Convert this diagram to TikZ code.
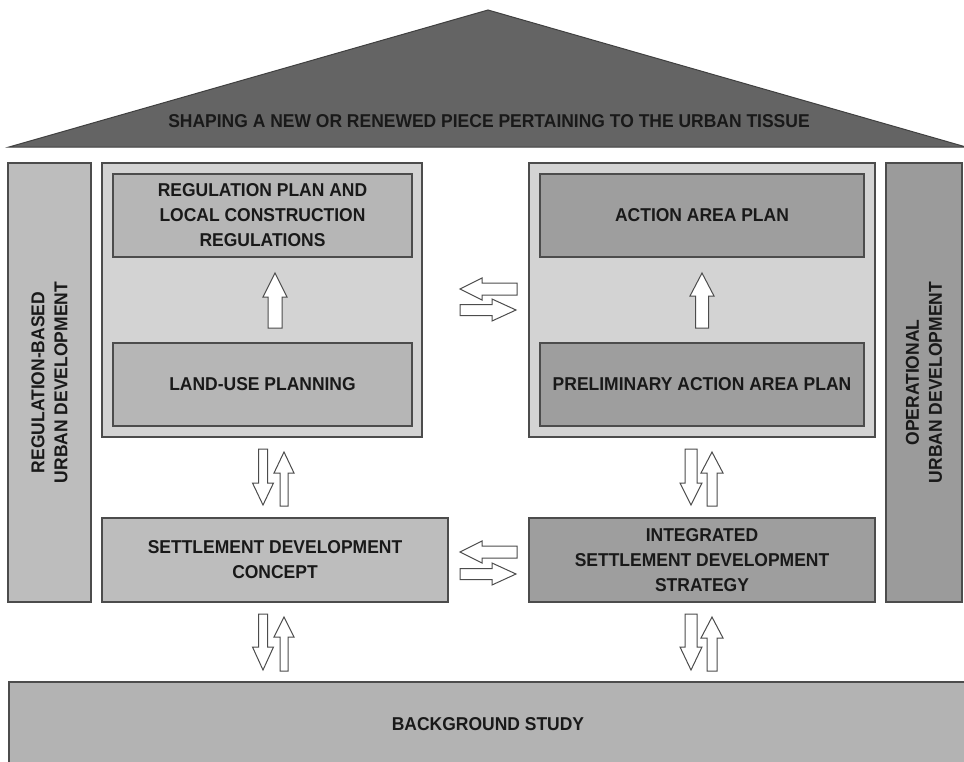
\documentclass[tikz,border=0pt]{standalone}
\usepackage{fontspec}
\setmainfont{Liberation Sans}
\newfontfamily\narrowbold[FakeStretch=0.94]{Liberation Sans Bold}
\begin{document}
\begin{tikzpicture}[x=1pt,y=-1pt,
  box/.style={draw=black!70,line width=1.1pt,align=center,inner sep=0pt,
    font=\narrowbold\fontsize{18.6}{25}\selectfont,text=black!90},
  blockarr/.style={draw=black!70,line width=1pt,fill=white,line join=miter}]
\definecolor{roof}{HTML}{646464}
\definecolor{pilL}{HTML}{BDBDBD}
\definecolor{grp}{HTML}{D3D3D3}
\definecolor{inL}{HTML}{B6B6B6}
\definecolor{inR}{HTML}{9E9E9E}
\definecolor{pilR}{HTML}{9B9B9B}
\definecolor{bgst}{HTML}{B3B3B3}
\useasboundingbox (0,0) rectangle (964,761);
% arrow macro: #1 start, #2 angle, #3 length, #4 head length, #5 shaft half, #6 head half
\newcommand{\blockarrow}[6]{%
  \draw[blockarr,shift={#1},rotate=#2] (0,-#5) -- (#3-#4,-#5) -- (#3-#4,-#6) -- (#3,0)
    -- (#3-#4,#6) -- (#3-#4,#5) -- (0,#5) -- cycle;}
% roof
\draw[fill=roof,draw=black!75,line width=1pt] (9,147) -- (488,10) -- (966,147) -- cycle;
\node[font=\narrowbold\fontsize{18.6}{20}\selectfont,text=black!90] (roof) at (489,121)
  {SHAPING A NEW OR RENEWED PIECE PERTAINING TO THE URBAN TISSUE};
% pillars
\node[box,fill=pilL,minimum width=83,minimum height=439] (lp) at (49.5,382.5) {};
\node[box,draw=none,rotate=90,font=\narrowbold\fontsize{18.6}{23}\selectfont] at (lp.center) {REGULATION-BASED\\URBAN DEVELOPMENT};
\node[box,fill=pilR,minimum width=76,minimum height=439] (rpil) at (924,382.5) {};
\node[box,draw=none,rotate=90,font=\narrowbold\fontsize{18.6}{23}\selectfont] at (rpil.center) {OPERATIONAL\\URBAN DEVELOPMENT};
% groups
\node[box,fill=grp,minimum width=320,minimum height=274] (lg) at (262,300) {};
\node[box,fill=inL,minimum width=299,minimum height=83] (rplan) at (262.5,215.5)
  {REGULATION PLAN AND\\LOCAL CONSTRUCTION\\REGULATIONS};
\node[box,fill=inL,minimum width=299,minimum height=83] (lu) at (262.5,384.5)
  {LAND-USE PLANNING};
\node[box,fill=grp,minimum width=346,minimum height=274] (rg) at (702,300) {};
\node[box,fill=inR,minimum width=324,minimum height=83] (aap) at (702,215.5)
  {ACTION AREA PLAN};
\node[box,fill=inR,minimum width=324,minimum height=83] (paap) at (702,384.5)
  {PRELIMINARY ACTION AREA PLAN};
% lower boxes
\node[box,fill=pilL,minimum width=346,minimum height=84] (sdc) at (275,560)
  {SETTLEMENT DEVELOPMENT\\CONCEPT};
\node[box,fill=inR,minimum width=346,minimum height=84] (isds) at (702,560)
  {INTEGRATED\\SETTLEMENT DEVELOPMENT\\STRATEGY};
% background study
\draw[fill=bgst,draw=black!70,line width=1.1pt] (9,682) rectangle (975,780);
\node[box,draw=none] (bs) at (488,724) {BACKGROUND STUDY};
% inner arrows
\blockarrow{(275,328)}{90}{55}{24}{7}{12}
\blockarrow{(702,328)}{90}{55}{23}{6.5}{12}
% horizontal arrows
\blockarrow{(517,289)}{180}{57}{22}{6}{11}
\blockarrow{(460,310)}{0}{56}{24}{5.5}{11}
\blockarrow{(517,552)}{180}{57}{22}{6}{11}
\blockarrow{(460,574)}{0}{56}{24}{5.5}{11}
% vertical arrow pairs
\blockarrow{(263,449)}{-90}{56}{22}{4.5}{10.5}
\blockarrow{(284,506)}{90}{54}{21}{4}{10}
\blockarrow{(691,449)}{-90}{56}{22}{6}{11}
\blockarrow{(712,506)}{90}{54}{21}{5}{11}
\blockarrow{(263,614)}{-90}{56}{23}{4.5}{10.5}
\blockarrow{(284,671)}{90}{54}{20}{4}{10}
\blockarrow{(691,614)}{-90}{56}{23}{6}{11}
\blockarrow{(712,671)}{90}{54}{21}{5}{11}
\end{tikzpicture}
\end{document}
